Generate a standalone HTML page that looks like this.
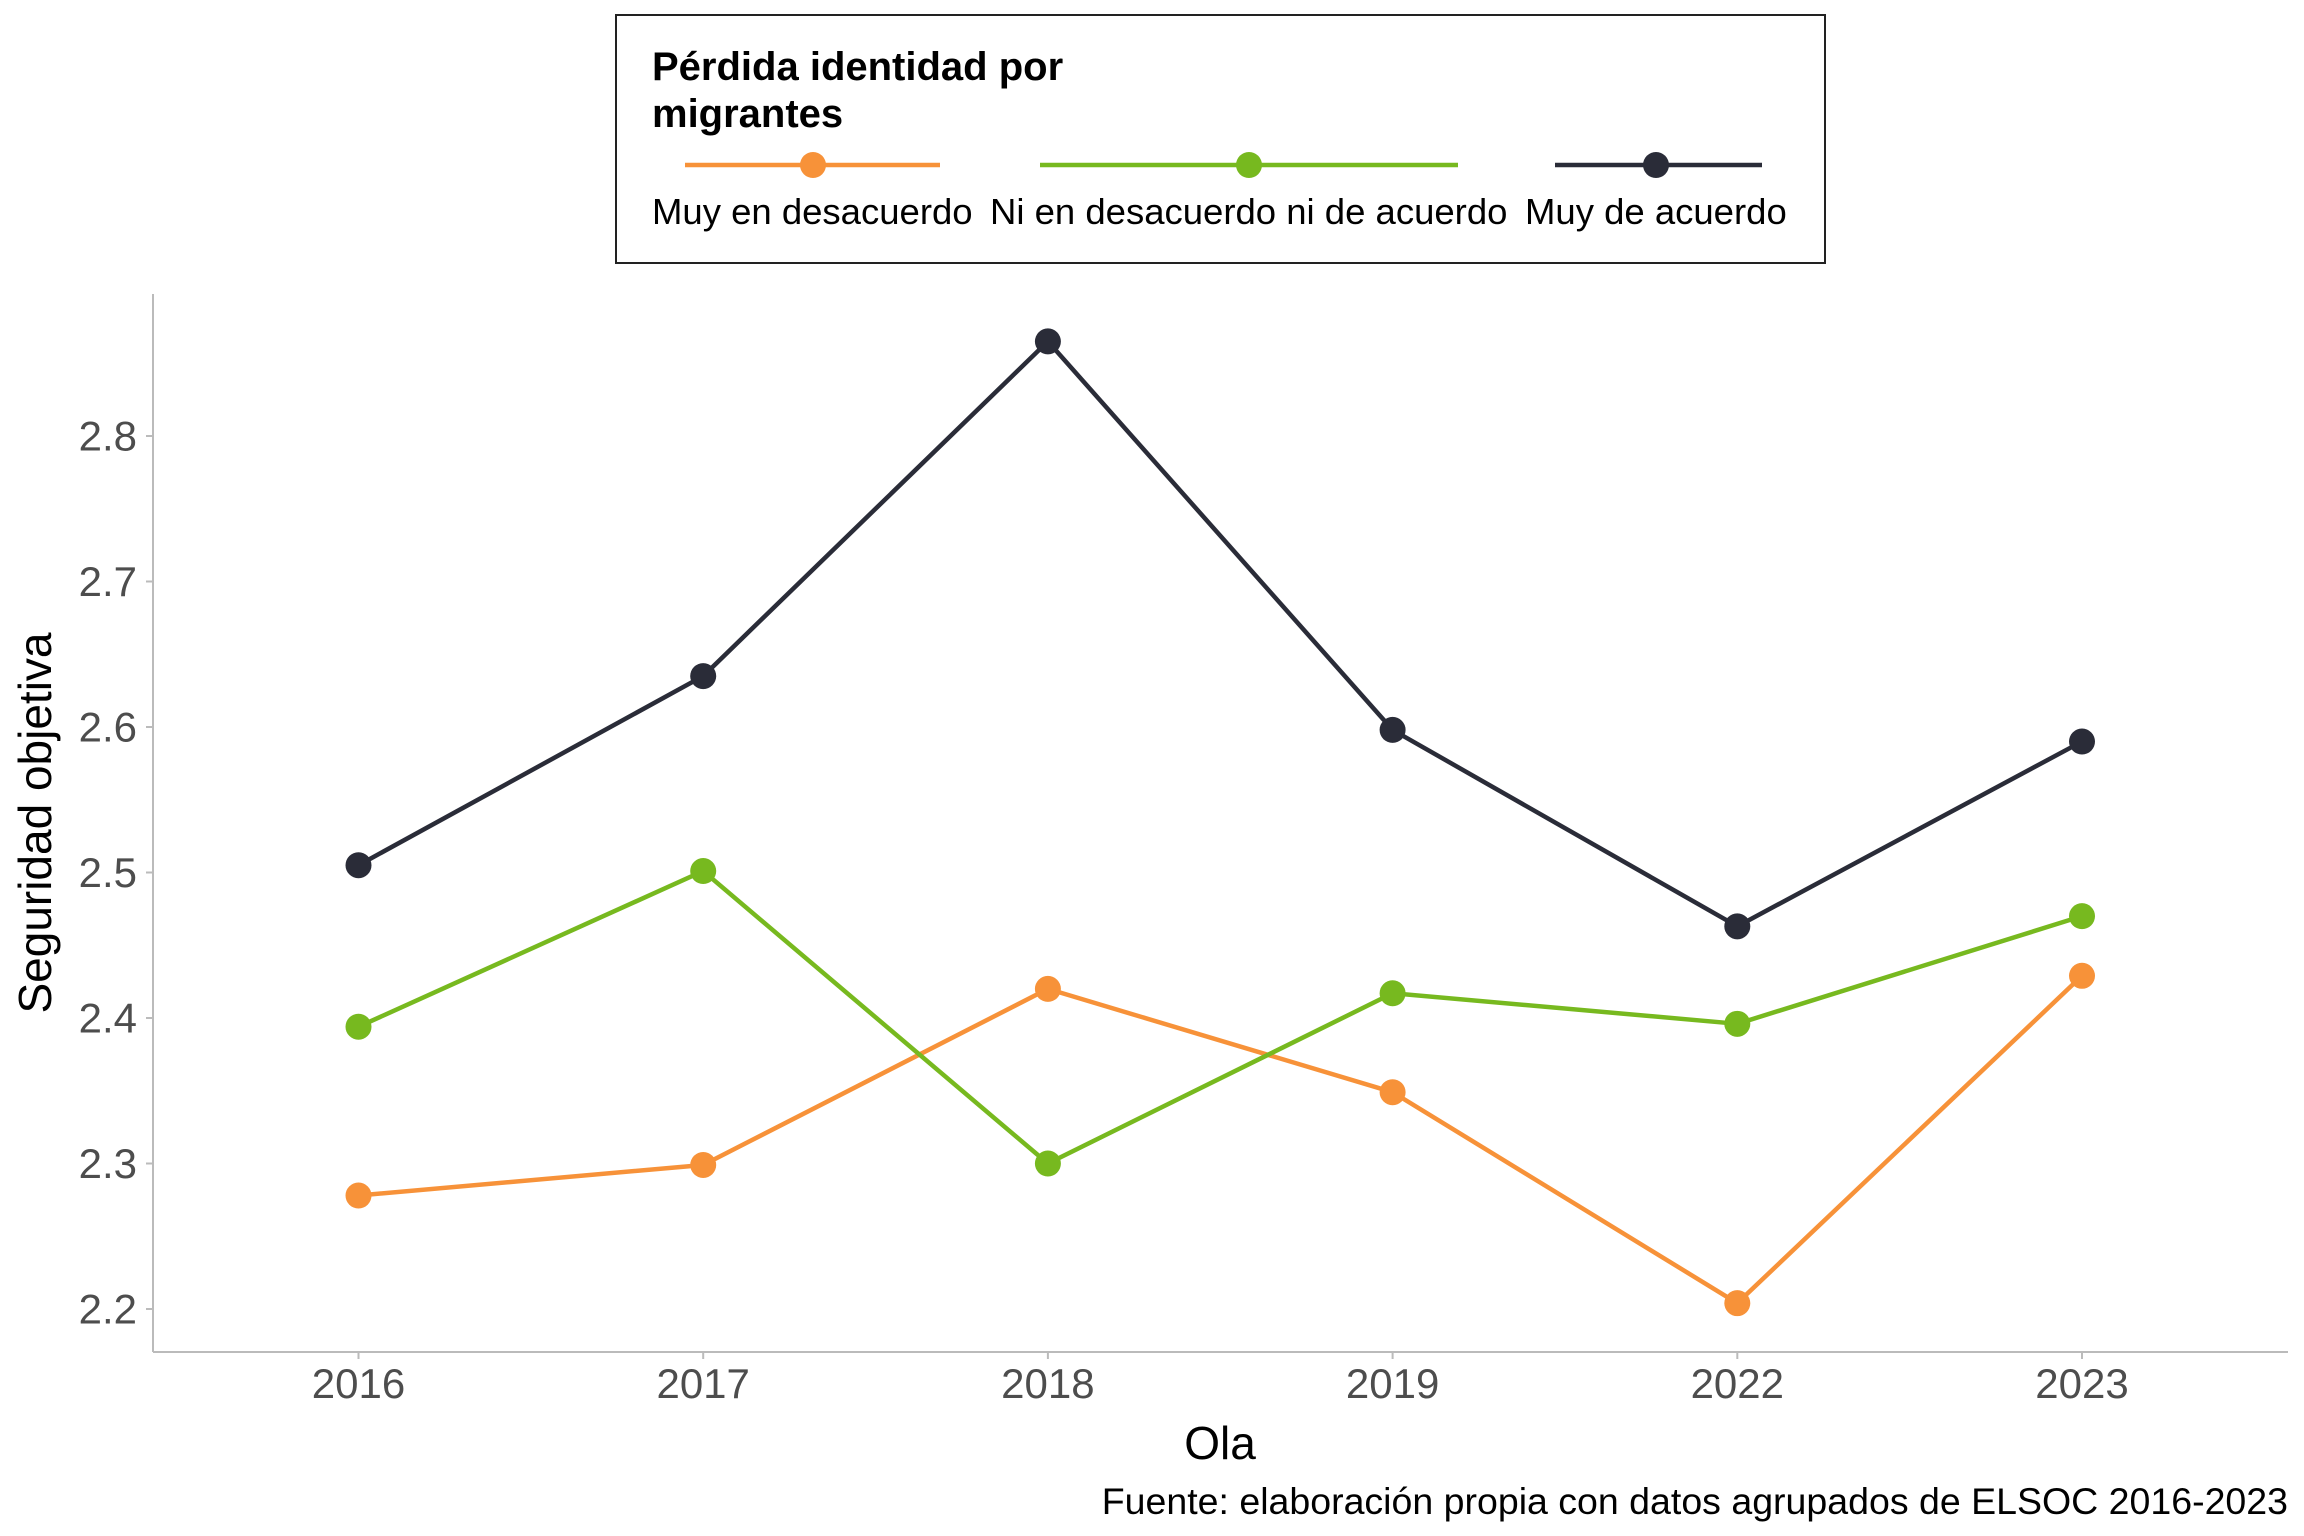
<!DOCTYPE html>
<html><head><meta charset="utf-8"><style>
html,body{margin:0;padding:0;background:#fff;}
svg{display:block;font-family:"Liberation Sans",Arial,sans-serif;}
</style></head><body>
<svg id="chart" width="2304" height="1536" viewBox="0 0 2304 1536">
<g>
<rect x="616" y="15" width="1209" height="248" fill="#fff" stroke="#222" stroke-width="2"/>
<text x="652" y="80" font-size="40" font-weight="bold">Pérdida identidad por</text>
<text x="652" y="127" font-size="40" font-weight="bold">migrantes</text>
<g>
<line x1="685" y1="165" x2="940" y2="165" stroke="#f79239" stroke-width="4.5"/>
<circle cx="813" cy="165" r="13" fill="#f79239"/>
<text x="652" y="224" font-size="36.5">Muy en desacuerdo</text></g>
<g>
<line x1="1040" y1="165" x2="1458" y2="165" stroke="#77b91f" stroke-width="4.5"/>
<circle cx="1249" cy="165" r="13" fill="#77b91f"/>
<text x="990" y="224" font-size="36.5">Ni en desacuerdo ni de acuerdo</text></g>
<g>
<line x1="1555" y1="165" x2="1762" y2="165" stroke="#2a2c38" stroke-width="4.5"/>
<circle cx="1656" cy="165" r="13" fill="#2a2c38"/>
<text x="1525" y="224" font-size="36.5">Muy de acuerdo</text></g>
</g>
<g id="axes"></g>
<g id="series"></g>
<text x="35" y="823" font-size="46" text-anchor="middle" transform="rotate(-90 35 823)" dominant-baseline="central">Seguridad objetiva</text>
<text x="1220" y="1459" font-size="46" text-anchor="middle">Ola</text>
<text x="2288" y="1514" font-size="37.5" text-anchor="end">Fuente: elaboración propia con datos agrupados de ELSOC 2016-2023</text>
</svg>
<script>
const categories = ["2016","2017","2018","2019","2022","2023"];
const seriesNames = ["Muy en desacuerdo","Ni en desacuerdo ni de acuerdo","Muy de acuerdo"];
const valuesMuyEnDesacuerdo = [2.278,2.299,2.420,2.349,2.204,2.429];
const valuesNiNi = [2.394,2.501,2.300,2.417,2.396,2.470];
const valuesMuyDeAcuerdo = [2.505,2.635,2.865,2.598,2.463,2.590];
const yTicks = [2.2,2.3,2.4,2.5,2.6,2.7,2.8];

const NS="http://www.w3.org/2000/svg";
const colors=["#f79239","#77b91f","#2a2c38"];
const plotLeft=153,plotRight=2288,plotTop=294,plotBottom=1352;
function xScale(i){return 358.5+i*344.7;}
function yScale(v){return 436+(2.8-v)*1455;}
function mk(tag,attrs,parent){const e=document.createElementNS(NS,tag);for(const k in attrs)e.setAttribute(k,attrs[k]);parent.appendChild(e);return e;}
const axes=document.getElementById('axes');
let ln=mk('line',{x1:plotLeft,y1:plotTop,x2:plotLeft,y2:plotBottom,stroke:'#bbb','stroke-width':2},axes);


ln=mk('line',{x1:plotLeft,y1:plotBottom,x2:plotRight,y2:plotBottom,stroke:'#bbb','stroke-width':2},axes);


yTicks.forEach(t=>{
  const y=yScale(t);
  mk('line',{x1:plotLeft-7,y1:y,x2:plotLeft,y2:y,stroke:'#bbb','stroke-width':2},axes);
  const tx=mk('text',{x:137,y:y,'font-size':42,'text-anchor':'end','dominant-baseline':'central',fill:'#4d4d4d'},axes);
  tx.textContent=t.toFixed(1);
  
  
});
categories.forEach((c,i)=>{
  const x=xScale(i);
  mk('line',{x1:x,y1:plotBottom,x2:x,y2:plotBottom+7,stroke:'#bbb','stroke-width':2},axes);
  const tx=mk('text',{x:x,y:1398,'font-size':42,'text-anchor':'middle',fill:'#4d4d4d'},axes);
  tx.textContent=c;
  
  
});
const allSeries=[valuesMuyEnDesacuerdo,valuesNiNi,valuesMuyDeAcuerdo];
const sg=document.getElementById('series');
allSeries.forEach((vals,s)=>{
  const g=mk('g',{},sg);
  
  
  const pts=vals.map((v,i)=>xScale(i)+','+yScale(v)).join(' ');
  const pl=mk('polyline',{points:pts,fill:'none',stroke:colors[s],'stroke-width':4.5,'stroke-linejoin':'round'},g);
  
  
  vals.forEach((v,i)=>{
    const c=mk('circle',{cx:xScale(i),cy:yScale(v),r:13,fill:colors[s]},g);
    
    
  });
});
</script>
</body></html>
